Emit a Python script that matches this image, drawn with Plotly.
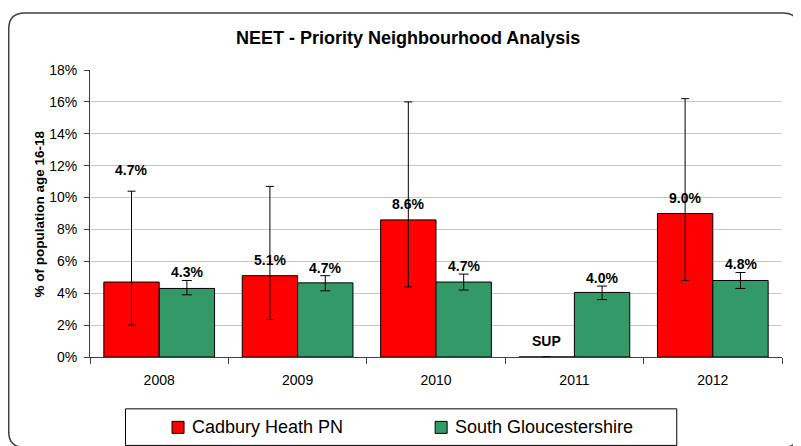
import plotly.graph_objects as go

years = ["2008", "2009", "2010", "2011", "2012"]

cadbury = [4.7, 5.1, 8.6, 0.0, 9.0]
cadbury_hi = [10.4, 10.7, 16.0, 0.0, 16.2]
cadbury_lo = [2.0, 2.35, 4.4, 0.0, 4.8]
cadbury_text = ["4.7%", "5.1%", "8.6%", "SUP", "9.0%"]

sglos = [4.3, 4.65, 4.7, 4.05, 4.8]
sglos_hi = [4.8, 5.1, 5.2, 4.45, 5.3]
sglos_lo = [3.9, 4.15, 4.2, 3.6, 4.3]
sglos_text = ["4.3%", "4.7%", "4.7%", "4.0%", "4.8%"]

# where excel happened to put the red labels
cadbury_label_y = [11.75, 6.1, 9.6, 1.0, 10.0]

FONT = "Arial, Liberation Sans, sans-serif"
W, H = 801, 446
# page has an 8px body margin, so everything below is in figure pixels
L, T = 82, 62
PR, PB = 773.7, 348.7
R, B = W - PR, H - PB

fig = go.Figure()
fig.add_trace(go.Bar(
    x=years, y=cadbury, name="Cadbury Heath PN",
    marker=dict(color="#FF0000", line=dict(color="#000000", width=1)),
    error_y=dict(type="data", symmetric=False,
                 array=[h - v for h, v in zip(cadbury_hi, cadbury)],
                 arrayminus=[v - l for v, l in zip(cadbury, cadbury_lo)],
                 color="#000000", thickness=1, width=4),
))
fig.add_trace(go.Bar(
    x=years, y=sglos, name="South Gloucestershire",
    marker=dict(color="#339966", line=dict(color="#000000", width=1)),
    error_y=dict(type="data", symmetric=False,
                 array=[h - v for h, v in zip(sglos_hi, sglos)],
                 arrayminus=[v - l for v, l in zip(sglos, sglos_lo)],
                 color="#000000", thickness=1, width=5),
))

pw, ph = PR - L, PB - T


def px(x):
    return (x - L) / pw


def py(y):
    return (PB - y) / ph


annotations = []
for i, yr in enumerate(years):
    # category index, not the label (labels look numeric)
    annotations.append(dict(x=i, y=cadbury_label_y[i], xref="x", yref="y", xshift=-27.7,
                            text="<b>%s</b>" % cadbury_text[i], showarrow=False,
                            font=dict(family=FONT, size=14, color="#000000")))
    annotations.append(dict(x=i, y=sglos_hi[i], xref="x", yref="y", xshift=27.7, yshift=8,
                            text="<b>%s</b>" % sglos_text[i], showarrow=False,
                            font=dict(family=FONT, size=14, color="#000000")))

# y axis title
annotations.append(dict(x=px(32), y=0.5, xref="paper", yref="paper", textangle=-90,
                        xanchor="center", yanchor="middle",
                        text="<b>% of population age 16-18</b>", showarrow=False,
                        font=dict(family=FONT, size=13.5, color="#000000")))

# legend, drawn by hand
leg_items = [("Cadbury Heath PN", "#FF0000", 164), ("South Gloucestershire", "#339966", 427)]
shapes = []
for name, col, sx in leg_items:
    shapes.append(dict(type="rect", xref="paper", yref="paper",
                       x0=px(sx), x1=px(sx + 12), y0=py(425), y1=py(413),
                       fillcolor=col, line=dict(color="#000000", width=1)))
    annotations.append(dict(x=px(sx + 18), y=py(419), xref="paper", yref="paper",
                            xanchor="left", yanchor="middle", text=name, showarrow=False,
                            font=dict(family=FONT, size=18, color="#000000")))
shapes.append(dict(type="rect", xref="paper", yref="paper",
                   x0=px(117.5), x1=px(668.5), y0=py(437), y1=py(400.5),
                   line=dict(color="#000000", width=1)))

# rounded outer frame
x0, x1, y0, y1, r = 0.75, 790.5, 5.0, 439.0, 16.0
path = ("M %f,%f L %f,%f Q %f,%f %f,%f L %f,%f Q %f,%f %f,%f "
        "L %f,%f Q %f,%f %f,%f L %f,%f Q %f,%f %f,%f Z") % (
    px(x0), py(y1 - r), px(x0), py(y0 + r), px(x0), py(y0), px(x0 + r), py(y0),
    px(x1 - r), py(y0), px(x1), py(y0), px(x1), py(y0 + r),
    px(x1), py(y1 - r), px(x1), py(y1), px(x1 - r), py(y1),
    px(x0 + r), py(y1), px(x0), py(y1), px(x0), py(y1 - r))
shapes.append(dict(type="path", xref="paper", yref="paper", path=path,
                   line=dict(color="#404040", width=1.5)))

fig.update_layout(
    width=W, height=H,
    margin=dict(l=L, r=R, t=T, b=B, autoexpand=False),
    paper_bgcolor="white", plot_bgcolor="white",
    font=dict(family=FONT, size=14, color="#000000"),
    title=dict(text="<b>NEET - Priority Neighbourhood Analysis</b>",
               x=px(400), xanchor="center", xref="paper", y=1 - 30 / H, yanchor="middle",
               font=dict(family=FONT, size=18, color="#000000")),
    barmode="group", bargap=0.2, bargroupgap=0,
    showlegend=False,
    annotations=annotations,
    shapes=shapes,
)
fig.update_xaxes(type="category", showline=True, linecolor="#404040", linewidth=1,
                 ticks="outside", tickson="boundaries", ticklen=6, tickcolor="#404040",
                 ticklabelstandoff=10, showgrid=False, tickfont=dict(family=FONT, size=14))
fig.update_yaxes(range=[0, 18], dtick=2, ticksuffix="%", showline=True,
                 linecolor="#404040", linewidth=1, ticks="outside", ticklen=5,
                 tickcolor="#404040", ticklabelstandoff=4, showgrid=True,
                 gridcolor="#C8C8C8", gridwidth=1, zeroline=False,
                 tickfont=dict(family=FONT, size=14))

fig.write_html("out.html")
